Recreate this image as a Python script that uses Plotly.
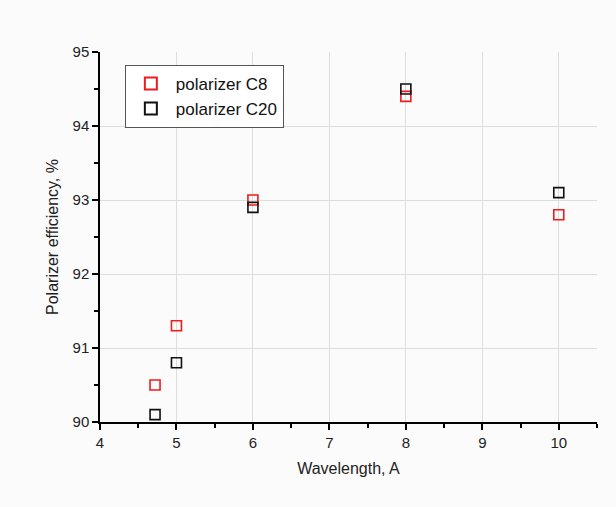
import plotly.graph_objects as go

wavelength = [4.72, 5, 6, 8, 10]
c8 = [90.5, 91.3, 93.0, 94.4, 92.8]
c20 = [90.1, 90.8, 92.9, 94.5, 93.1]

fig = go.Figure()
fig.add_trace(go.Scatter(x=wavelength, y=c8, mode="markers", name="polarizer C8",
                         marker=dict(symbol="square-open", size=10, color="#ee1c1c", line=dict(width=1.6))))
fig.add_trace(go.Scatter(x=wavelength, y=c20, mode="markers", name="polarizer C20",
                         marker=dict(symbol="square-open", size=10, color="#111111", line=dict(width=1.6))))

font = "Liberation Sans, Arial, sans-serif"
fig.update_layout(
    width=616, height=507,
    margin=dict(l=100, r=19, t=52, b=85),
    paper_bgcolor="#fbfbfb", plot_bgcolor="#fbfbfb",
    font=dict(family=font, size=15, color="#222"),
    showlegend=True,
    legend=dict(x=0.05, y=0.965, xanchor="left", yanchor="top",
                bgcolor="white", bordercolor="#555", borderwidth=1,
                font=dict(size=17, color="#111"), itemsizing="constant",
                tracegroupgap=0, itemwidth=40),
)
fig.update_xaxes(range=[4, 10.5], dtick=1, showgrid=True, gridcolor="#dddddd", gridwidth=1,
                 showline=True, linecolor="black", linewidth=1.5, ticks="outside", ticklen=6,
                 tickwidth=1.5, tickcolor="black", zeroline=False,
                 minor=dict(dtick=0.5, ticks="outside", ticklen=4, tickcolor="black", tickwidth=1.5, showgrid=False),
                 title=dict(text="Wavelength, A", font=dict(size=16), standoff=13))
fig.update_yaxes(range=[90, 95], dtick=1, showgrid=True, gridcolor="#dddddd", gridwidth=1,
                 showline=True, linecolor="black", linewidth=1.5, ticks="outside", ticklen=6,
                 tickwidth=1.5, tickcolor="black", zeroline=False,
                 minor=dict(dtick=0.5, ticks="outside", ticklen=4, tickcolor="black", tickwidth=1.5, showgrid=False),
                 title=dict(text="Polarizer efficiency, %", font=dict(size=16), standoff=10))

fig.write_html("out.html")
